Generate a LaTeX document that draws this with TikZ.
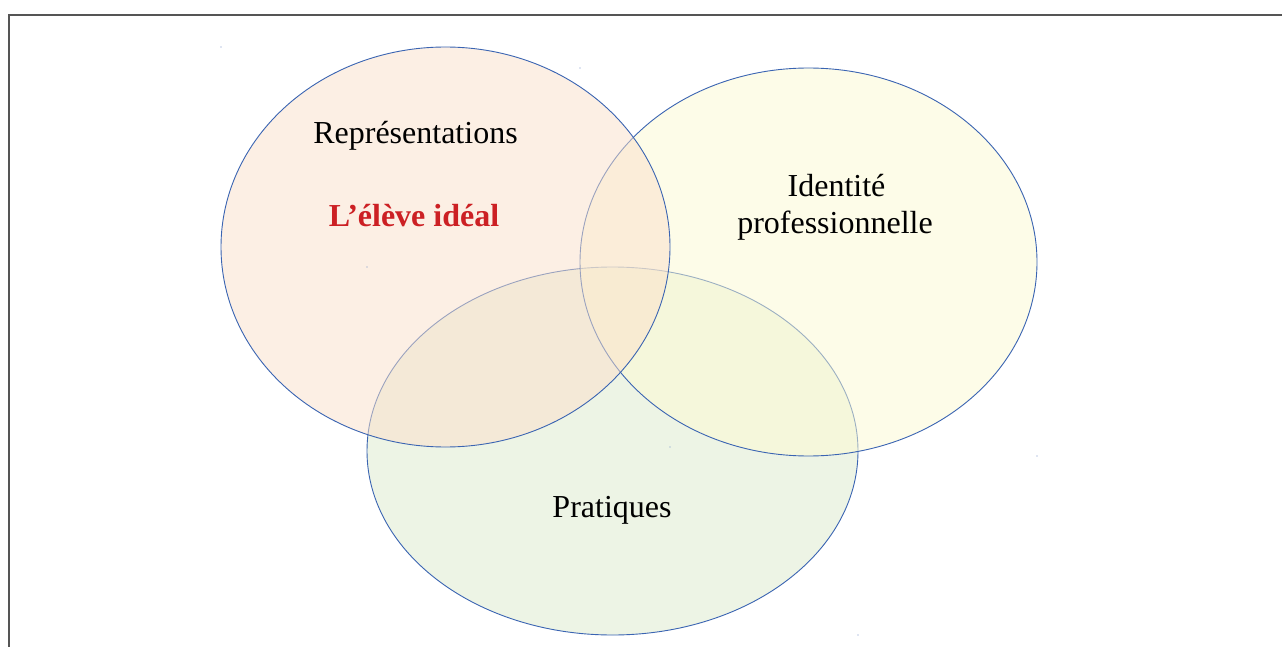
\documentclass[tikz,border=0pt]{standalone}
\usepackage{fontspec}
\setmainfont{Liberation Serif}
\usetikzlibrary{shapes.geometric}
\definecolor{edgeblue}{RGB}{58,100,178}
\definecolor{repfill}{RGB}{251,224,203}
\definecolor{idfill}{RGB}{253,250,210}
\definecolor{pratfill}{RGB}{221,235,205}
\definecolor{framegray}{RGB}{85,85,85}
\definecolor{titlered}{RGB}{204,32,36}
\tikzset{
  venn/.style={ellipse, draw=edgeblue, line width=0.9pt, fill opacity=0.5, inner sep=0pt, outer sep=0pt},
  label/.style={anchor=base, inner sep=0pt, font=\fontsize{32}{38}\selectfont},
  cornerdot/.style={circle, fill=edgeblue!70, inner sep=0pt, minimum size=1.2pt}
}
\begin{document}
\begin{tikzpicture}[x=1pt,y=-1pt]
\useasboundingbox (0,0) rectangle (1282,647);
\fill[white] (0,0) rectangle (1282,647);
\begin{scope}
\clip (0,0) rectangle (1282,647);
\draw[framegray, line width=1.5pt] (9,15) rectangle (1300,670);
\end{scope}
% ellipses, bottom to top
\node[venn, fill=pratfill, minimum width=491pt, minimum height=368pt] (prat) at (612.5,451) {};
\node[venn, fill=idfill, minimum width=457pt, minimum height=388pt] (ident) at (808.5,262) {};
\node[venn, fill=repfill, minimum width=449pt, minimum height=400pt] (rep) at (445.5,247) {};
% corner markers
\node[cornerdot] (d1) at (221,47) {};
\node[cornerdot] (d2) at (670,447) {};
\node[cornerdot] (d3) at (580,68) {};
\node[cornerdot] (d4) at (1037,456) {};
\node[cornerdot] (d5) at (367,267) {};
\node[cornerdot] (d6) at (858,635) {};
% labels
\node[label] (t1) at (415.5,143.3) {Représentations};
\node[label, text=titlered, font=\fontsize{32}{38}\selectfont\bfseries] (t2) at (414,226.7) {L’élève idéal};
\node[label] (t3) at (836.5,196.7) {Identité};
\node[label] (t4) at (835,233.3) {professionnelle};
\node[label] (t5) at (612,517.3) {Pratiques};
\end{tikzpicture}
\end{document}
